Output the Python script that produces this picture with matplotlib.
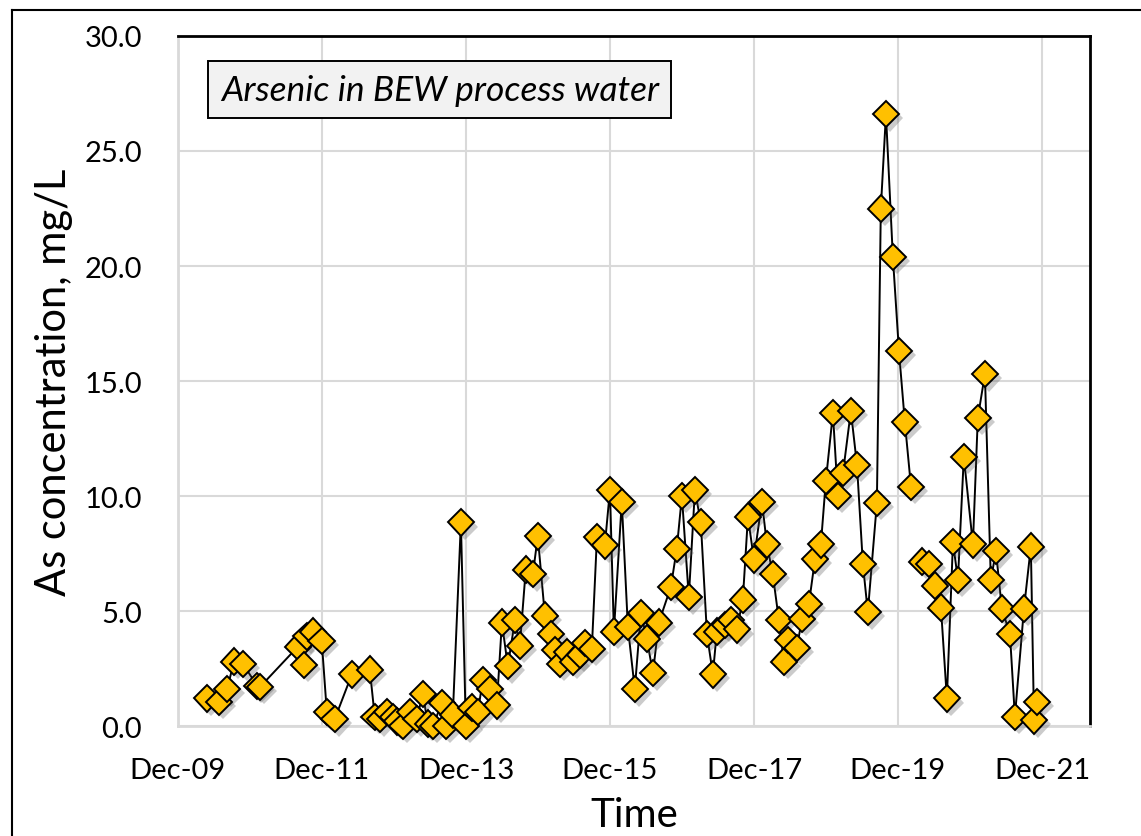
"""Arsenic in BEW process water - time series of As concentration."""
import numpy as np
import pandas as pd
import matplotlib
matplotlib.use("Agg")
import matplotlib.pyplot as plt
import matplotlib.dates as mdates
import matplotlib.patheffects as pe
from matplotlib.lines import Line2D

plt.rcParams["font.family"] = ["Lato", "DejaVu Sans"]

# sample dates and As concentrations (mg/L)
dates = [
    "2010-04-27", "2010-06-27", "2010-08-07", "2010-09-11", "2010-10-27",
    "2011-01-06", "2011-01-21", "2011-08-01", "2011-08-31", "2011-09-15",
    "2011-10-16", "2011-11-30", "2011-12-26", "2012-02-04", "2012-05-01",
    "2012-07-31", "2012-08-25", "2012-09-20", "2012-10-25", "2012-11-25",
    "2012-12-15", "2013-01-14", "2013-02-19", "2013-03-26", "2013-04-26",
    "2013-05-21", "2013-06-16", "2013-07-31", "2013-08-21", "2013-09-25",
    "2013-11-05", "2013-11-30", "2013-12-30", "2014-01-30", "2014-02-24",
    "2014-04-01", "2014-05-06", "2014-06-01", "2014-07-01", "2014-08-06",
    "2014-08-31", "2014-09-30", "2014-11-05", "2014-11-30", "2015-01-05",
    "2015-02-04", "2015-02-25", "2015-03-22", "2015-04-26", "2015-05-27",
    "2015-07-01", "2015-07-27", "2015-08-31", "2015-09-26", "2015-11-05",
    "2015-12-01", "2015-12-21", "2016-01-30", "2016-03-01", "2016-04-05",
    "2016-05-06", "2016-06-05", "2016-07-06", "2016-08-05", "2016-10-05",
    "2016-11-04", "2016-11-30", "2017-01-04", "2017-02-04", "2017-03-06",
    "2017-04-06", "2017-05-06", "2017-05-26", "2017-07-06", "2017-08-05",
    "2017-09-05", "2017-10-05", "2017-10-31", "2017-11-30", "2018-01-10",
    "2018-02-04", "2018-03-06", "2018-04-06", "2018-05-01", "2018-05-22",
    "2018-07-06", "2018-08-01", "2018-09-05", "2018-10-06", "2018-11-05",
    "2018-11-30", "2019-01-05", "2019-01-30", "2019-02-25", "2019-04-06",
    "2019-05-07", "2019-06-06", "2019-07-01", "2019-08-16", "2019-09-05",
    "2019-10-01", "2019-11-05", "2019-12-06", "2020-01-05", "2020-02-05",
    "2020-03-01", "2020-03-31", "2020-05-06", "2020-06-05", "2020-07-06",
    "2020-08-05", "2020-09-05", "2020-09-30", "2020-10-30", "2020-12-15",
    "2021-01-09", "2021-02-14", "2021-03-16", "2021-04-11", "2021-05-11",
    "2021-06-21", "2021-07-16", "2021-08-31", "2021-10-05", "2021-10-21",
    "2021-11-05",
]
arsenic = [
    1.2, 1.05, 1.6, 2.8, 2.7,
    1.75, 1.7, 3.45, 2.65, 3.9,
    4.1, 3.7, 0.6, 0.3, 2.25,
    2.45, 0.4, 0.3, 0.6, 0.4,
    0.2, 0.0, 0.6, 0.3, 1.4,
    0.1, 0.0, 1.0, 0.0, 0.5,
    8.85, 0.0, 0.8, 0.6, 2.0,
    1.6, 0.9, 4.5, 2.6, 4.6,
    3.5, 6.8, 6.6, 8.25, 4.8,
    4.0, 3.3, 2.7, 3.2, 2.8,
    3.1, 3.6, 3.35, 8.2, 7.85,
    10.25, 4.1, 9.75, 4.3, 1.6,
    4.9, 3.8, 2.3, 4.5, 6.05,
    7.7, 10.0, 5.6, 10.25, 8.85,
    4.0, 2.25, 4.1, 4.4, 4.6,
    4.2, 5.5, 9.1, 7.25, 9.75,
    7.9, 6.6, 4.6, 2.8, 3.75,
    3.4, 4.65, 5.3, 7.25, 7.9,
    10.65, 13.6, 10.0, 11.0, 13.7,
    11.35, 7.05, 4.95, 9.7, 22.5,
    26.6, 20.4, 16.3, 13.2, 10.4,
    np.nan, 7.15, 7.05, 6.1, 5.15,
    1.2, 8.0, 6.35, 11.7, 7.9,
    13.4, 15.3, 6.35, 7.6, 5.1,
    4.0, 0.4, 5.1, 7.8, 0.25,
    1.05,
]
x_ticks = ["2009-12-01", "2011-12-01", "2013-12-01", "2015-12-01",
           "2017-12-01", "2019-12-01", "2021-12-01"]
x_range = ["2009-12-01", "2022-08-01"]
y_ticks = [0, 5, 10, 15, 20, 25, 30]

t = pd.to_datetime(dates)
grid_c = "#d9d9d9"

fig = plt.figure(figsize=(11.41, 8.37), dpi=100)
ax = fig.add_axes([0.156, 0.1314, 0.7993, 0.8244])

ax.plot(t, arsenic, color="black", linewidth=1.4, zorder=3, clip_on=False)
ax.plot(t, arsenic, linestyle="none", marker="D", markersize=13.5,
        markerfacecolor="#FFC000", markeredgecolor="black",
        markeredgewidth=1.4, zorder=4, clip_on=False,
        path_effects=[pe.SimplePatchShadow(offset=(3, -3),
                                           shadow_rgbFace="#555555", alpha=0.3),
                      pe.Normal()])

ax.set_xlim(pd.to_datetime(x_range[0]), pd.to_datetime(x_range[1]))
ax.set_ylim(0, 30)
ax.set_xticks(pd.to_datetime(x_ticks))
ax.xaxis.set_major_formatter(mdates.DateFormatter("%b-%y"))
ax.set_yticks(y_ticks)
ax.yaxis.set_major_formatter(matplotlib.ticker.FormatStrFormatter("%.1f"))
ax.tick_params(axis="both", length=0, labelsize=21, pad=22)
ax.tick_params(axis="y", pad=26)

ax.grid(True, color=grid_c, linewidth=1.5, zorder=0)
ax.set_axisbelow(True)
for side in ("left", "bottom"):
    ax.spines[side].set_color(grid_c)
    ax.spines[side].set_linewidth(2)
for side in ("top", "right"):
    ax.spines[side].set_color("black")
    ax.spines[side].set_linewidth(2)

ax.set_xlabel("Time", fontsize=29, labelpad=10)
ax.set_ylabel("As concentration, mg/L", fontsize=30, labelpad=8)

ax.text(0.287, 0.922, "Arsenic in BEW process water", transform=ax.transAxes,
        ha="center", va="center", fontsize=25.5, style="italic", zorder=6,
        bbox=dict(boxstyle="square,pad=0.35", facecolor="#f2f2f2",
                  edgecolor="black", linewidth=1.4))

# outer frame of the original chart object (partly cut off)
fig.add_artist(Line2D([0.0105, 0.0105], [0, 0.987], color="black",
                      linewidth=1.5, transform=fig.transFigure))
fig.add_artist(Line2D([0.0105, 1.0], [0.987, 0.987], color="black",
                      linewidth=1.5, transform=fig.transFigure))

fig.savefig("out.png", dpi=100)
